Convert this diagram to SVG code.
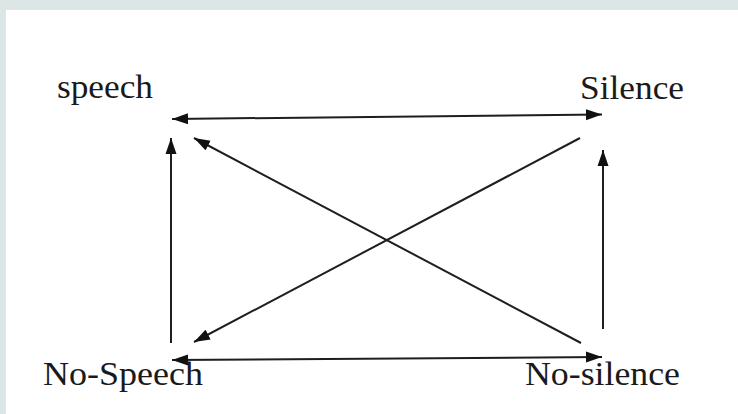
<svg xmlns="http://www.w3.org/2000/svg" width="738" height="414" viewBox="0 0 738 414">
<defs>
<style>
.lbl{font-family:"Liberation Serif","Times New Roman",serif;font-size:33px;fill:#1a1a1a}
.edge{stroke:#1e1e1e;stroke-width:2;fill:none}
</style>
<marker id="ah" markerUnits="userSpaceOnUse" markerWidth="17" markerHeight="12" refX="16" refY="6" orient="auto-start-reverse">
<path d="M0,0.5 L16,6 L0,11.5 z" fill="#111"/>
</marker>
</defs>
<rect x="0" y="0" width="738" height="414" fill="#dde6e6"/>
<rect x="6" y="10" width="732" height="404" fill="#ffffff"/>
<g id="connectors">
<line class="edge" x1="172" y1="119" x2="602" y2="114.5" marker-start="url(#ah)" marker-end="url(#ah)"/>
<line class="edge" x1="171" y1="343" x2="171" y2="138" marker-end="url(#ah)"/>
<line class="edge" x1="581" y1="343" x2="194" y2="138" marker-end="url(#ah)"/>
<line class="edge" x1="603" y1="329" x2="603" y2="150" marker-end="url(#ah)"/>
<line class="edge" x1="580" y1="138" x2="194" y2="342" marker-end="url(#ah)"/>
<line class="edge" x1="172" y1="360" x2="602" y2="357" marker-start="url(#ah)" marker-end="url(#ah)"/>
</g>
<g id="speech"><text class="lbl" x="57" y="98" textLength="96" lengthAdjust="spacingAndGlyphs">speech</text></g>
<g id="silence"><text class="lbl" x="580" y="99" textLength="104" lengthAdjust="spacingAndGlyphs">Silence</text></g>
<g id="no-speech"><text class="lbl" x="43" y="385" textLength="160" lengthAdjust="spacingAndGlyphs">No-Speech</text></g>
<g id="no-silence"><text class="lbl" x="525" y="385" textLength="155" lengthAdjust="spacingAndGlyphs">No-silence</text></g>
</svg>
